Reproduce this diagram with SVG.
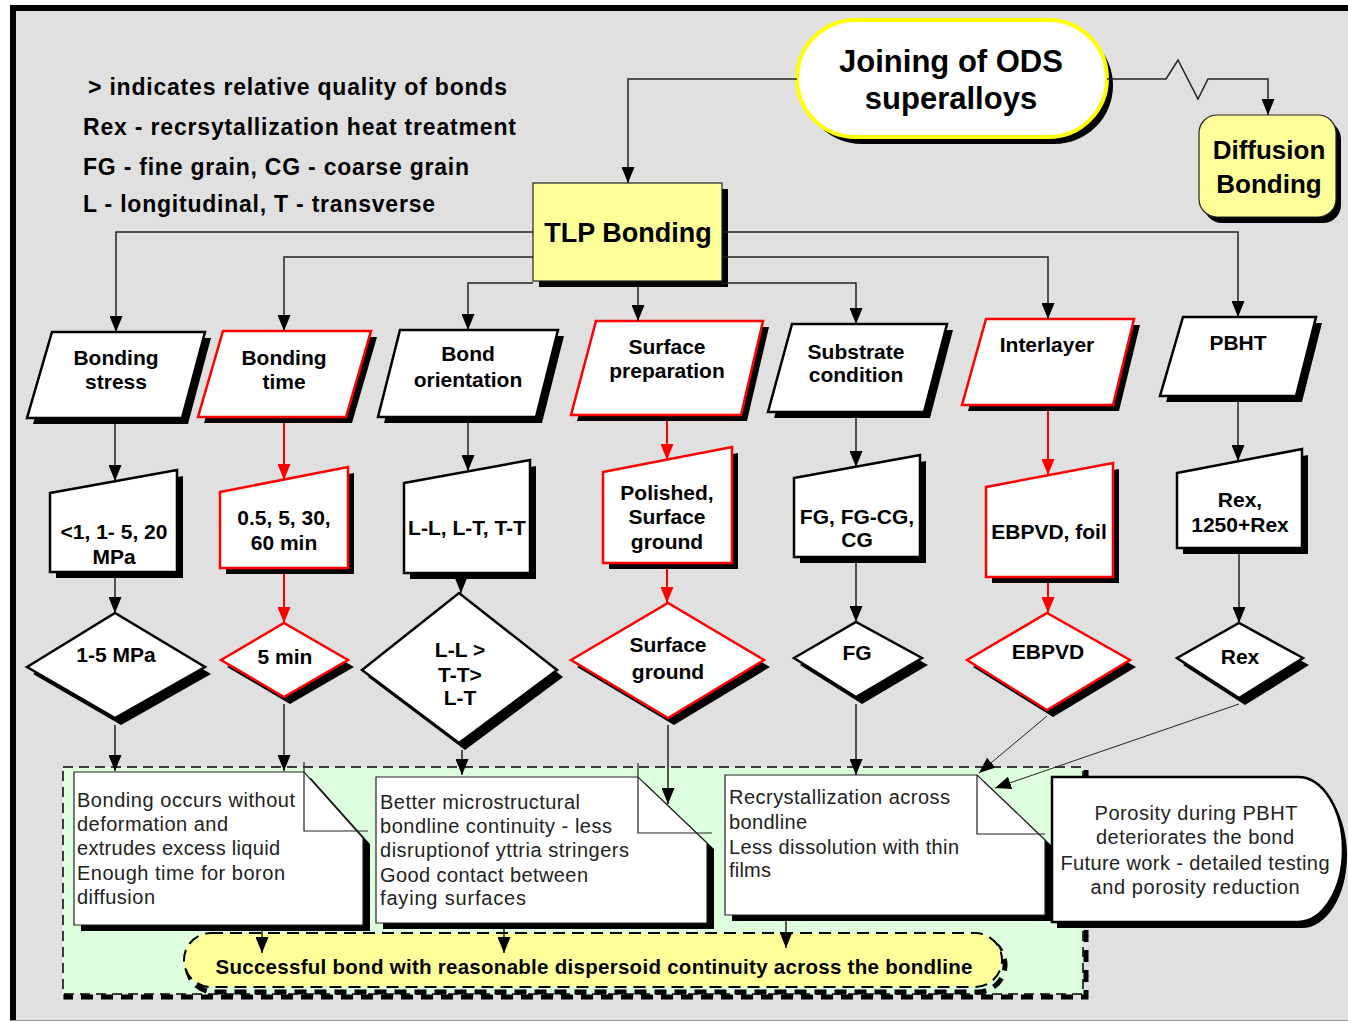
<svg xmlns="http://www.w3.org/2000/svg" width="1348" height="1022" viewBox="0 0 1348 1022">
<defs>
<style>
text{font-family:"Liberation Sans",Arial,Helvetica,sans-serif;fill:#000}
.lg{font-size:23px;font-weight:bold}
.lb{font-size:21px;font-weight:bold;text-anchor:middle}
.nt{font-size:20px;fill:#222}
.ntc{font-size:20px;fill:#222;text-anchor:middle}
.sh{fill:#000;stroke:none}
.bk{fill:#fff;stroke:#000;stroke-width:2.5;stroke-linejoin:miter}
.rd{fill:#fff;stroke:#ff0000;stroke-width:2.5;stroke-linejoin:miter}
.note{fill:#fff;stroke:#222;stroke-width:1.2}
.fold{fill:none;stroke:#222;stroke-width:1.2}
.c{fill:none;stroke:#222;stroke-width:1.5}
.cr{fill:none;stroke:#ff0000;stroke-width:2}
.ct{fill:none;stroke:#222;stroke-width:1}
</style>
<marker id="a" markerUnits="userSpaceOnUse" markerWidth="16" markerHeight="13" refX="16" refY="6.5" orient="auto" viewBox="0 0 16 13"><path d="M0,0 L16,6.5 L0,13 Z" fill="#000"/></marker>
<marker id="ar" markerUnits="userSpaceOnUse" markerWidth="16" markerHeight="13" refX="16" refY="6.5" orient="auto" viewBox="0 0 16 13"><path d="M0,0 L16,6.5 L0,13 Z" fill="#ff0000"/></marker>
</defs>

<rect x="0" y="0" width="1348" height="1022" fill="#fff"/>
<rect x="10" y="5" width="1338" height="1016" fill="#e0e0e0"/>
<rect x="10" y="5" width="1338" height="6" fill="#000"/>
<rect x="10" y="5" width="6" height="1016" fill="#000"/>
<line x1="10" y1="1020.5" x2="1348" y2="1020.5" stroke="#999" stroke-width="1"/>

<g id="legend">
<text class="lg" x="88" y="95" textLength="419">&gt; indicates relative quality of bonds</text>
<text class="lg" x="83" y="135" textLength="433">Rex - recrsytallization heat treatment</text>
<text class="lg" x="83" y="175" textLength="386">FG - fine grain, CG - coarse grain</text>
<text class="lg" x="83" y="212" textLength="352">L - longitudinal, T - transverse</text>
</g>

<g id="bottom-area">
<rect x="66" y="770" width="1020" height="227" fill="none" stroke="#000" stroke-width="5" stroke-dasharray="12 8"/>
<rect x="63" y="767" width="1020" height="227" fill="#ddffdd" stroke="#000" stroke-width="1.5" stroke-dasharray="10 6"/>
</g>

<g id="title">
<rect class="sh" x="803" y="27" width="310" height="117" rx="58.5"/>
<rect x="797" y="20" width="310" height="117" rx="58.5" fill="#fff" stroke="#ffff00" stroke-width="4"/>
<text x="951" y="72" style="font-size:31px;font-weight:bold;text-anchor:middle">Joining of ODS</text>
<text x="951" y="109" style="font-size:31px;font-weight:bold;text-anchor:middle">superalloys</text>
</g>

<g id="diffusion">
<rect class="sh" x="1204" y="121" width="137" height="102" rx="18"/>
<rect x="1199" y="115" width="137" height="102" rx="18" fill="#ffff99" stroke="#222" stroke-width="1.2"/>
<text x="1269" y="159" style="font-size:26px;font-weight:bold;text-anchor:middle">Diffusion</text>
<text x="1269" y="193" style="font-size:26px;font-weight:bold;text-anchor:middle">Bonding</text>
</g>

<g id="tlp">
<rect class="sh" x="539" y="189" width="189" height="98"/>
<rect x="533" y="183" width="189" height="98" fill="#ffff99" stroke="#222" stroke-width="1.2"/>
<text x="628" y="242" style="font-size:27px;font-weight:bold;text-anchor:middle">TLP Bonding</text>
</g>

<g id="p-stress">
<path class="sh" d="M58,338 H211 L188,424 H33 Z"/>
<path class="bk" d="M52,332 H205 L182,418 H27 Z"/>
<text class="lb" x="116" y="365">Bonding</text>
<text class="lb" x="116" y="389">stress</text>
</g>
<g id="p-time">
<path class="sh" d="M229,337 H377 L352,423 H204 Z"/>
<path class="rd" d="M223,331 H371 L346,417 H198 Z"/>
<text class="lb" x="284" y="365">Bonding</text>
<text class="lb" x="284" y="389">time</text>
</g>
<g id="p-orient">
<path class="sh" d="M406,336 H564 L542,423 H384 Z"/>
<path class="bk" d="M400,330 H558 L536,417 H378 Z"/>
<text class="lb" x="468" y="361">Bond</text>
<text class="lb" x="468" y="387">orientation</text>
</g>
<g id="p-surface">
<path class="sh" d="M602,327 H769 L747,421 H577 Z"/>
<path class="rd" d="M596,321 H763 L741,415 H571 Z"/>
<text class="lb" x="667" y="354">Surface</text>
<text class="lb" x="667" y="378">preparation</text>
</g>
<g id="p-substrate">
<path class="sh" d="M798,330 H953 L930,418 H774 Z"/>
<path class="bk" d="M792,324 H947 L924,412 H768 Z"/>
<text class="lb" x="856" y="359">Substrate</text>
<text class="lb" x="856" y="382">condition</text>
</g>
<g id="p-interlayer">
<path class="sh" d="M992,325 H1140 L1119,411 H968 Z"/>
<path class="rd" d="M986,319 H1134 L1113,405 H962 Z"/>
<text class="lb" x="1047" y="352">Interlayer</text>
</g>
<g id="p-pbht">
<path class="sh" d="M1189,323 H1322 L1302,402 H1166 Z"/>
<path class="bk" d="M1183,317 H1316 L1296,396 H1160 Z"/>
<text class="lb" x="1238" y="350">PBHT</text>
</g>

<g id="v-stress">
<path class="sh" d="M56,499 L183,476 V578 H56 Z"/>
<path class="bk" d="M50,493 L177,470 V572 H50 Z"/>
<text class="lb" x="114" y="539">&lt;1, 1- 5, 20</text>
<text class="lb" x="114" y="564">MPa</text>
</g>
<g id="v-time">
<path class="sh" d="M226,498 L354,473 V574 H226 Z"/>
<path class="rd" d="M220,492 L348,467 V568 H220 Z"/>
<text class="lb" x="284" y="525">0.5, 5, 30,</text>
<text class="lb" x="284" y="550">60 min</text>
</g>
<g id="v-orient">
<path class="sh" d="M410,489 L536,466 V579 H410 Z"/>
<path class="bk" d="M404,483 L530,460 V573 H404 Z"/>
<text class="lb" x="467" y="535">L-L, L-T, T-T</text>
</g>
<g id="v-surface">
<path class="sh" d="M609,478 L738,453 V569 H609 Z"/>
<path class="rd" d="M603,472 L732,447 V563 H603 Z"/>
<text class="lb" x="667" y="500">Polished,</text>
<text class="lb" x="667" y="524">Surface</text>
<text class="lb" x="667" y="549">ground</text>
</g>
<g id="v-substrate">
<path class="sh" d="M800,484 L926,461 V563 H800 Z"/>
<path class="bk" d="M794,478 L920,455 V557 H794 Z"/>
<text class="lb" x="857" y="524">FG, FG-CG,</text>
<text class="lb" x="857" y="547">CG</text>
</g>
<g id="v-interlayer">
<path class="sh" d="M992,493 L1119,469 V583 H992 Z"/>
<path class="rd" d="M986,487 L1113,463 V577 H986 Z"/>
<text class="lb" x="1049" y="539">EBPVD, foil</text>
</g>
<g id="v-pbht">
<path class="sh" d="M1183,479 L1308,455 V554 H1183 Z"/>
<path class="bk" d="M1177,473 L1302,449 V548 H1177 Z"/>
<text class="lb" x="1240" y="507">Rex,</text>
<text class="lb" x="1240" y="532">1250+Rex</text>
</g>

<g id="d-stress">
<path class="sh" d="M33,674 L121,620 L211,674 L121,725 Z"/>
<path class="bk" d="M27,667 L115,613 L205,667 L115,718 Z"/>
<text class="lb" x="116" y="662">1-5 MPa</text>
</g>
<g id="d-time">
<path class="sh" d="M227,667 L290,630 L354,667 L290,704 Z"/>
<path class="rd" d="M221,660 L284,623 L348,660 L284,697 Z"/>
<text class="lb" x="285" y="664">5 min</text>
</g>
<g id="d-orient">
<path class="sh" d="M368,677 L465,600 L563,677 L465,750 Z"/>
<path class="bk" d="M362,670 L459,593 L557,670 L459,743 Z"/>
<text class="lb" x="460" y="657">L-L &gt;</text>
<text class="lb" x="460" y="682">T-T&gt;</text>
<text class="lb" x="460" y="705">L-T</text>
</g>
<g id="d-surface">
<path class="sh" d="M577,667 L674,610 L770,667 L674,725 Z"/>
<path class="rd" d="M571,660 L668,603 L764,660 L668,718 Z"/>
<text class="lb" x="668" y="652">Surface</text>
<text class="lb" x="668" y="679">ground</text>
</g>
<g id="d-substrate">
<path class="sh" d="M800,665 L862,629 L928,665 L862,704 Z"/>
<path class="bk" d="M794,658 L856,622 L922,658 L856,697 Z"/>
<text class="lb" x="857" y="660">FG</text>
</g>
<g id="d-interlayer">
<path class="sh" d="M973,667 L1053,620 L1136,667 L1053,717 Z"/>
<path class="rd" d="M967,660 L1047,613 L1130,660 L1047,710 Z"/>
<text class="lb" x="1048" y="659">EBPVD</text>
</g>
<g id="d-pbht">
<path class="sh" d="M1183,665 L1245,630 L1309,665 L1245,705 Z"/>
<path class="bk" d="M1177,658 L1239,623 L1303,658 L1239,698 Z"/>
<text class="lb" x="1240" y="664">Rex</text>
</g>

<g id="note1">
<path class="sh" d="M81,778 H311 L370,844 V931 H81 Z"/>
<path class="note" d="M74,772 H304 L363,838 V925 H74 Z"/>
<path class="fold" d="M304,762 V831 H368"/>
<text class="nt" x="77" y="807" textLength="218">Bonding occurs without</text>
<text class="nt" x="77" y="831" textLength="151">deformation and</text>
<text class="nt" x="77" y="855" textLength="203">extrudes excess liquid</text>
<text class="nt" x="77" y="880" textLength="208">Enough time for boron</text>
<text class="nt" x="77" y="904" textLength="78">diffusion</text>
</g>
<g id="note2">
<path class="sh" d="M383,783 H645 L714,849 V929 H383 Z"/>
<path class="note" d="M376,777 H638 L707,843 V923 H376 Z"/>
<path class="fold" d="M638,763 V833 H712"/>
<text class="nt" x="380" y="809" textLength="200">Better microstructural</text>
<text class="nt" x="380" y="833" textLength="232">bondline continuity - less</text>
<text class="nt" x="380" y="857" textLength="249">disruptionof yttria stringers</text>
<text class="nt" x="380" y="882" textLength="208">Good contact between</text>
<text class="nt" x="380" y="905" textLength="146">faying surfaces</text>
</g>
<g id="note3">
<path class="sh" d="M732,781 H984 L1052,846 V921 H732 Z"/>
<path class="note" d="M725,775 H977 L1045,840 V915 H725 Z"/>
<path class="fold" d="M977,775 V834 H1045"/>
<text class="nt" x="729" y="804" textLength="221">Recrystallization across</text>
<text class="nt" x="729" y="829" textLength="78">bondline</text>
<text class="nt" x="729" y="854" textLength="230">Less dissolution with thin</text>
<text class="nt" x="729" y="877" textLength="42">films</text>
</g>
<g id="note4">
<path class="sh" d="M1057,783 H1302 A45,72.5 0 0 1 1302,928 H1057 Z"/>
<path d="M1052,777 H1298 A45,72.5 0 0 1 1298,922 H1052 Z" fill="#fff" stroke="#000" stroke-width="2.5"/>
<text class="ntc" x="1196" y="820" textLength="203">Porosity during PBHT</text>
<text class="ntc" x="1195" y="844" textLength="198">deteriorates the bond</text>
<text class="ntc" x="1195" y="870" textLength="269">Future work - detailed testing</text>
<text class="ntc" x="1195" y="894" textLength="209">and porosity reduction</text>
</g>

<g id="result">
<rect x="187" y="938" width="818" height="54" rx="27" fill="none" stroke="#000" stroke-width="5" stroke-dasharray="12 8"/>
<rect x="184" y="933" width="818" height="54" rx="27" fill="#ffff99" stroke="#000" stroke-width="2" stroke-dasharray="12 7"/>
<text x="594" y="974" textLength="757" style="font-size:20.5px;font-weight:bold;text-anchor:middle">Successful bond with reasonable dispersoid continuity across the bondline</text>
</g>

<g id="connectors">
<path class="c" d="M797,79 H628 V183" marker-end="url(#a)"/>
<path class="c" d="M1107,79 H1166 L1178,60 L1198,99 L1208,79 H1268 V115" marker-end="url(#a)"/>
<path class="c" d="M533,232 H116 V332" marker-end="url(#a)"/>
<path class="c" d="M533,257 H284 V331" marker-end="url(#a)"/>
<path class="c" d="M533,283 H468 V330" marker-end="url(#a)"/>
<path class="c" d="M638,287 V321" marker-end="url(#a)"/>
<path class="c" d="M722,283 H856 V324" marker-end="url(#a)"/>
<path class="c" d="M722,257 H1048 V319" marker-end="url(#a)"/>
<path class="c" d="M722,232 H1238 V317" marker-end="url(#a)"/>

<path class="c" d="M115,424 V481" marker-end="url(#a)"/>
<path class="cr" d="M284,423 V480" marker-end="url(#ar)"/>
<path class="c" d="M468,423 V471" marker-end="url(#a)"/>
<path class="cr" d="M667,421 V460" marker-end="url(#ar)"/>
<path class="c" d="M856,418 V467" marker-end="url(#a)"/>
<path class="cr" d="M1048,411 V475" marker-end="url(#ar)"/>
<path class="c" d="M1238,402 V461" marker-end="url(#a)"/>

<path class="c" d="M115,578 V613" marker-end="url(#a)"/>
<path class="cr" d="M284,574 V623" marker-end="url(#ar)"/>
<path class="c" d="M461,579 V593" marker-end="url(#a)"/>
<path class="cr" d="M667,569 V603" marker-end="url(#ar)"/>
<path class="c" d="M856,563 V622" marker-end="url(#a)"/>
<path class="cr" d="M1048,583 V613" marker-end="url(#ar)"/>
<path class="c" d="M1239,554 V623" marker-end="url(#a)"/>

<path class="c" d="M115,725 V771" marker-end="url(#a)"/>
<path class="c" d="M284,704 V771" marker-end="url(#a)"/>
<path class="c" d="M462,750 V775" marker-end="url(#a)"/>
<path class="c" d="M668,725 V804" marker-end="url(#a)"/>
<path class="c" d="M856,704 V775" marker-end="url(#a)"/>
<path class="ct" d="M1047,716 L979,773" marker-end="url(#a)"/>
<path class="ct" d="M1239,704 L995,788" marker-end="url(#a)"/>

<path class="c" d="M262,931 V953" marker-end="url(#a)"/>
<path class="c" d="M504,929 V953" marker-end="url(#a)"/>
<path class="c" d="M786,921 V948" marker-end="url(#a)"/>
</g>
</svg>
